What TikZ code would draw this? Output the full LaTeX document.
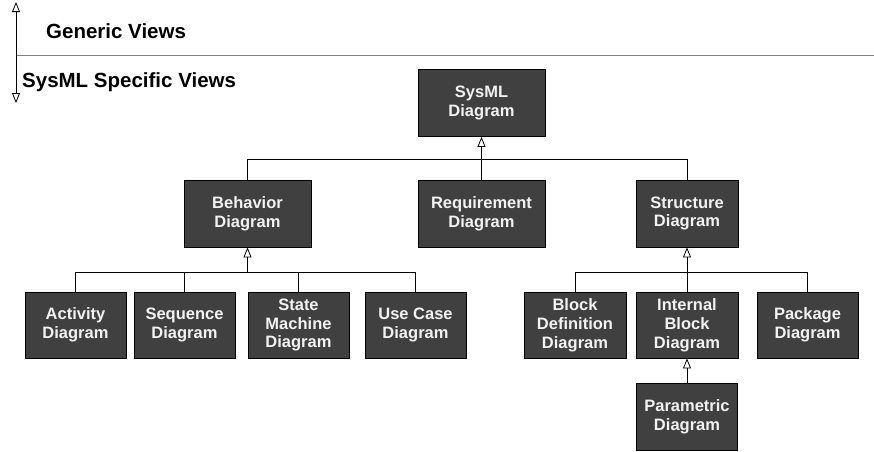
\documentclass[tikz,border=0pt]{standalone}
\usepackage{fontspec}
\setmainfont{Liberation Sans}
\usetikzlibrary{arrows.meta}

\definecolor{box fill}{HTML}{404040}
\definecolor{box text}{HTML}{F2F2F2}

\tikzset{
  diagram box/.style = {draw = black, line width = 0.8pt, fill = box fill, text = box text,
    align = center, inner sep = 0pt, font = \bfseries\fontsize{16.5}{18.8}\selectfont},
  wide box/.style = {diagram box, minimum width = 127pt, minimum height = 67pt},
  small box/.style = {diagram box, minimum width = 101pt, minimum height = 66pt},
  open tip/.tip = {Triangle[open, length = 10pt, width = 8pt]},
  generalize/.style = {-open tip, line width = 0.8pt},
  bus/.style = {line width = 0.8pt},
  view label/.style = {anchor = base west, inner sep = 0pt, font = \bfseries\fontsize{20.5}{23}\selectfont}
}

\begin{document}
\begin{tikzpicture}[x = 1pt, y = -1pt]
    \useasboundingbox (0, 0) rectangle (874, 451);
    % view separator
    \coordinate (views top) at (16, 2);
    \coordinate (views bottom) at (16, 103);
    \coordinate (separator left) at (16, 55);
    \coordinate (separator right) at (874, 55);
    \draw[gray, line width = 0.8pt] (separator left) -- (separator right);
    \draw[open tip-open tip, line width = 0.8pt] (views top) -- (views bottom);
    \node[view label] (generic views) at (46, 38) {Generic Views};
    \node[view label] (specific views) at (22, 87) {SysML Specific Views};
    % top level
    \node[wide box] (sysml diagram) at (481.5, 103) {SysML \\ Diagram};
    \node[wide box] (behavior diagram) at (247.5, 213.5) {Behavior \\ Diagram};
    \node[wide box] (requirement diagram) at (481.5, 213.5) {Requirement \\ Diagram};
    \node[wide box, minimum width = 102pt] (structure diagram) at (687, 213.5) {Structure \\ Diagram};
    \coordinate (top bus) at (481.5, 159);
    \draw[generalize] (requirement diagram) -- (sysml diagram);
    \draw[bus] (behavior diagram.north) |- (top bus);
    \draw[bus] (structure diagram.north) |- (top bus);
    % behavior diagrams
    \node[small box] (activity diagram) at (75.5, 325) {Activity \\ Diagram};
    \node[small box] (sequence diagram) at (184.5, 325) {Sequence \\ Diagram};
    \node[small box] (state machine diagram) at (298.5, 325) {State \\ Machine \\ Diagram};
    \node[small box] (use case diagram) at (415.5, 325) {Use Case \\ Diagram};
    \coordinate (behavior bus) at (247.5, 272);
    \draw[generalize] (behavior bus) -- (behavior diagram);
    \draw[bus] (activity diagram.north) |- (behavior bus);
    \draw[bus] (sequence diagram.north) |- (behavior bus);
    \draw[bus] (state machine diagram.north) |- (behavior bus);
    \draw[bus] (use case diagram.north) |- (behavior bus);
    % structure diagrams
    \node[small box, minimum width = 102pt] (block definition diagram) at (575, 325) {Block \\ Definition \\ Diagram};
    \node[small box, minimum width = 102pt] (internal block diagram) at (687, 325) {Internal \\ Block \\ Diagram};
    \node[small box] (package diagram) at (807.5, 325) {Package \\ Diagram};
    \node[small box, minimum height = 67pt] (parametric diagram) at (687, 416.5) {Parametric \\ Diagram};
    \coordinate (structure bus) at (687, 272);
    \draw[generalize] (structure bus) -- (structure diagram);
    \draw[bus] (block definition diagram.north) |- (structure bus);
    \draw[bus] (internal block diagram.north) -- (structure bus);
    \draw[bus] (package diagram.north) |- (structure bus);
    \draw[generalize] (parametric diagram) -- (internal block diagram);
  \end{tikzpicture}
\end{document}
